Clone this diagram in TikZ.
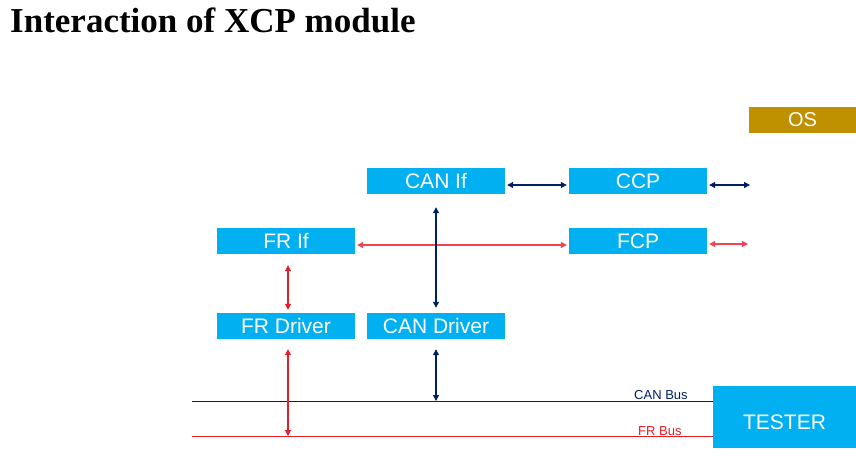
\documentclass[tikz,border=0pt]{standalone}
\usepackage{fontspec}
\setmainfont{Liberation Sans}
\newfontfamily\titlefont{Liberation Serif}
\usetikzlibrary{arrows.meta}
\definecolor{boxcyan}{HTML}{00B0F0}
\definecolor{osgold}{HTML}{BF9000}
\definecolor{navy}{HTML}{002060}
\definecolor{redA}{HTML}{E0202A}
\definecolor{redB}{HTML}{F04452}
\begin{document}
\begin{tikzpicture}[x=1pt,y=-1pt,
  modbox/.style={fill=boxcyan,draw=none,text=white,minimum width=138pt,minimum height=26pt,inner sep=0pt,font=\fontsize{21}{21}\selectfont},
  navyline/.style={draw=navy,line width=1.1pt,{Triangle[length=6pt,width=6pt]}-{Triangle[length=6pt,width=6pt]}},
  redline/.style={draw=redA,line width=1.1pt,{Triangle[length=6pt,width=6pt]}-{Triangle[length=6pt,width=6pt]}},
  redlight/.style={draw=redB,line width=1.1pt,{Triangle[length=6pt,width=6pt]}-{Triangle[length=6pt,width=6pt]}},
  buslabel/.style={font=\fontsize{13}{13}\selectfont,inner sep=0pt}]
\useasboundingbox[fill=white] (0,0) rectangle (856,455);
% title
\node[anchor=base west,inner sep=0pt,font=\titlefont\bfseries\fontsize{35}{35}\selectfont] (title) at (10,32) {Interaction of XCP module};
% boxes
\node[modbox,fill=osgold,minimum width=107pt,font=\fontsize{20}{20}\selectfont] (os) at (802.5,120) {OS};
\node[modbox] (canif) at (436,181) {CAN If};
\node[modbox] (ccp) at (638,181) {CCP};
\node[modbox] (frif) at (286,241) {FR If};
\node[modbox] (fcp) at (638,241) {FCP};
\node[modbox] (frdrv) at (286,326) {FR Driver};
\node[modbox] (candrv) at (436,326) {CAN Driver};
\node[modbox,minimum width=143pt,minimum height=62pt,text height=24pt,text depth=0pt,font=\fontsize{21}{21}\selectfont] (tester) at (784.5,417) {TESTER};
% buses
\coordinate (canbusL) at (192,401);
\coordinate (frbusL) at (192,436);
\draw[navy,line width=1pt] (canbusL) -- (canbusL -| tester.west);
\draw[redA,line width=1pt] (frbusL) -- (frbusL -| tester.west);
\node[buslabel,text=navy,anchor=base west] (canbuslbl) at (634,399) {CAN Bus};
\node[buslabel,text=redA,anchor=base west] (frbuslbl) at (638,435) {FR Bus};
% connectors
\coordinate (ccpout) at (750,185);
\coordinate (fcpout) at (748,244);
\coordinate (frx) at ([xshift=2]frdrv.south);
\draw[navyline] ([shift={(2,4)}]canif.east) -- ([shift={(-2,4)}]ccp.west);
\draw[navyline] ([shift={(2,4)}]ccp.east) -- (ccpout);
\draw[redlight] ([shift={(2,4)}]frif.east) -- ([shift={(-2,4)}]fcp.west);
\draw[redlight] ([shift={(2,3)}]fcp.east) -- (fcpout);
\draw[navyline] ([shift={(0,13)}]canif.south) -- ([shift={(0,-5)}]candrv.north);
\draw[navyline] ([shift={(0,10)}]candrv.south) -- (canbusL -| candrv.south);
\draw[redline] ([shift={(2,11)}]frif.south) -- ([shift={(2,-3)}]frdrv.north);
\draw[redline] ([shift={(0,10)}]frx) -- (frbusL -| frx);
\end{tikzpicture}
\end{document}
